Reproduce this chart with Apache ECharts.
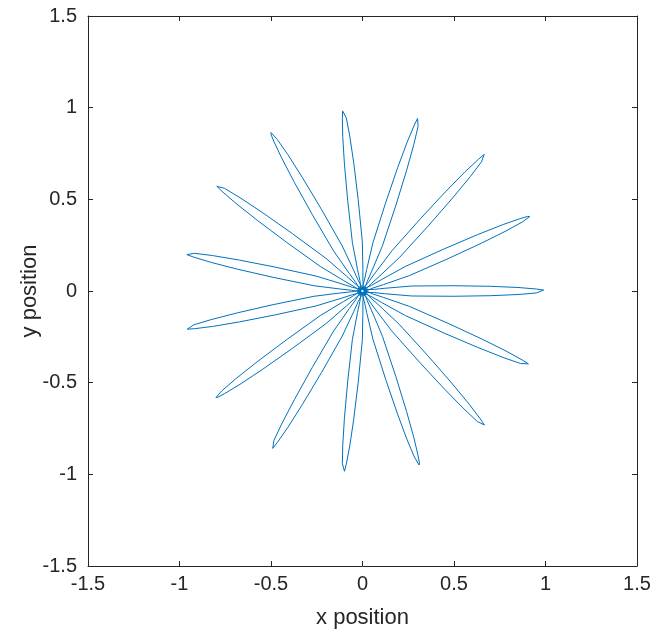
<!DOCTYPE html>
<html>
<head>
<meta charset="utf-8">
<script src="https://cdn.jsdelivr.net/npm/echarts@6/dist/echarts.min.js"></script>
<style>
html,body{margin:0;padding:0;background:#fff;}
#chart{width:657px;height:635px;}
</style>
</head>
<body>
<div id="chart"></div>
<script>
// Petal tip directions (degrees) and tip distances
const petalAngles = [0, 24, 48, 72, 96, 120, 144, 168, 192, 216, 240, 264, 288, 312, 336];
const petalTipRadius = [1.00, 1.00, 1.01, 1.00, 1.00, 1.00, 0.99, 0.99, 0.99, 0.99, 1.00, 1.00, 1.00, 1.00, 1.00];
// Petal outline: distance (fraction of tip distance) and angular offset from the petal axis (deg)
const profileRadius = [0.012, 0.014, 0.018, 0.03, 0.06, 0.12, 0.27, 0.5, 0.7, 0.85, 0.95, 0.99];
const profileOffset = [180, 120, 60, 15, 8, 7, 5.8, 3.3, 2.1, 1.3, 0.65, 0.3];
// Axis ticks
const xTicks = { min: -1.5, max: 1.5, step: 0.5 };
const yTicks = { min: -1.5, max: 1.5, step: 0.5 };

function norm(a) { return ((a % 360) + 360) % 360; }
const orbit = [];
for (let i = 0; i < petalAngles.length; i++) {
  const th = petalAngles[i], R = petalTipRadius[i];
  for (let j = 0; j < profileRadius.length; j++) orbit.push([profileRadius[j] * R, norm(th + profileOffset[j])]);
  orbit.push([R, norm(th)]);
  for (let j = profileRadius.length - 1; j >= 0; j--) orbit.push([profileRadius[j] * R, norm(th - profileOffset[j])]);
}

const L = 88, T = 16, W = 549, H = 550;
const txt = '#262626';
const font = 'Liberation Sans, Arial, Helvetica, sans-serif';
function axisCommon(showLabel, margin) {
  return {
    axisLine: { show: true, onZero: false, lineStyle: { color: txt, width: 1 } },
    axisTick: { show: true, inside: true, length: 5, lineStyle: { color: txt } },
    splitLine: { show: false },
    axisLabel: { show: showLabel, color: txt, fontSize: 20, fontFamily: font, margin: margin || 8 }
  };
}
const chart = echarts.init(document.getElementById('chart'), null, { renderer: 'canvas' });
chart.setOption({
  animation: false,
  backgroundColor: '#fff',
  grid: { left: L, top: T, width: W, height: H, containLabel: false },
  xAxis: [
    Object.assign({ type: 'value', position: 'bottom', min: xTicks.min, max: xTicks.max, interval: xTicks.step,
      name: 'x position', nameLocation: 'middle', nameGap: 41, nameMoveOverlap: false,
      nameTextStyle: { color: txt, fontSize: 22, fontFamily: font } }, axisCommon(true, 8)),
    Object.assign({ type: 'value', position: 'top', min: xTicks.min, max: xTicks.max, interval: xTicks.step }, axisCommon(false))
  ],
  yAxis: [
    Object.assign({ type: 'value', position: 'left', min: yTicks.min, max: yTicks.max, interval: yTicks.step,
      name: 'y position', nameLocation: 'middle', nameGap: 47, nameMoveOverlap: false,
      nameTextStyle: { color: txt, fontSize: 22, fontFamily: font } }, axisCommon(true, 11)),
    Object.assign({ type: 'value', position: 'right', min: yTicks.min, max: yTicks.max, interval: yTicks.step }, axisCommon(false))
  ],
  polar: { center: [L + W / 2, T + H / 2], radius: W / 2 },
  radiusAxis: { min: 0, max: 1.5, show: false, axisLine: { show: false }, axisTick: { show: false }, axisLabel: { show: false }, splitLine: { show: false } },
  angleAxis: { min: 0, max: 360, startAngle: 0, clockwise: false, show: false, axisLine: { show: false }, axisTick: { show: false }, axisLabel: { show: false }, splitLine: { show: false } },
  series: [{
    type: 'line', coordinateSystem: 'polar', data: orbit, showSymbol: false, symbol: 'none',
    lineStyle: { color: '#0072BD', width: 1 }, clip: false
  }]
});
</script>
</body>
</html>
